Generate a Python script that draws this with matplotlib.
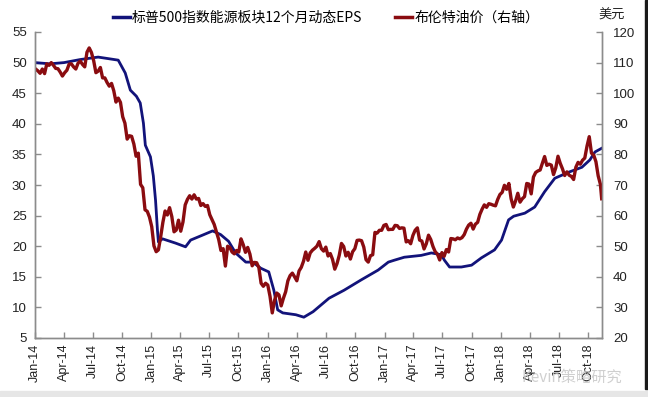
import matplotlib
matplotlib.use('Agg')
import matplotlib.pyplot as plt
import matplotlib.dates as mdates
from matplotlib.lines import Line2D
from matplotlib.patches import Rectangle
import pandas as pd

plt.rcParams['font.family'] = ['Liberation Sans', 'Noto Sans CJK SC', 'DejaVu Sans']

# ---- S&P 500 energy sector 12m forward EPS (left axis) ----
eps_dates = ['2014-01-01', '2014-02-17', '2014-04-02', '2014-05-23', '2014-07-18', '2014-08-25',
             '2014-09-19', '2014-10-11', '2014-10-27', '2014-11-15', '2014-11-27', '2014-12-07',
             '2014-12-13', '2014-12-29', '2015-01-07', '2015-01-14', '2015-01-20', '2015-01-23',
             '2015-02-05', '2015-03-18', '2015-04-18', '2015-05-04', '2015-06-10', '2015-07-12',
             '2015-08-06', '2015-08-31', '2015-09-22', '2015-10-24', '2015-11-15', '2015-12-10',
             '2016-01-04', '2016-01-20', '2016-02-01', '2016-02-17', '2016-03-29', '2016-04-23',
             '2016-05-22', '2016-06-16', '2016-07-11', '2016-08-27', '2016-10-20', '2016-12-12',
             '2017-01-13', '2017-01-31', '2017-03-04', '2017-04-26', '2017-05-28', '2017-06-28',
             '2017-07-08', '2017-07-24', '2017-08-30', '2017-10-01', '2017-11-01', '2017-12-12',
             '2018-01-03', '2018-01-25', '2018-02-10', '2018-03-17', '2018-04-17', '2018-05-18',
             '2018-06-19', '2018-08-02', '2018-09-12', '2018-10-07', '2018-10-23', '2018-11-13']
eps_values = [50.0, 49.8, 50.0, 50.5, 50.9, 50.6,
              50.4, 48.3, 45.5, 44.5, 43.4, 40.1,
              36.5, 34.6, 31.5, 27.5, 22.6, 20.7,
              21.2, 20.5, 19.9, 21.0, 21.8, 22.5,
              21.9, 20.8, 18.9, 17.4, 17.4, 16.4,
              15.8, 12.8, 9.6, 9.1, 8.8, 8.4,
              9.3, 10.4, 11.5, 12.8, 14.5, 16.1,
              17.4, 17.7, 18.2, 18.5, 18.9, 18.6,
              17.7, 16.6, 16.6, 16.9, 18.1, 19.4,
              21.0, 24.3, 24.9, 25.4, 26.4, 28.9,
              31.1, 32.1, 32.9, 34.1, 35.4, 36.0]

# ---- Brent crude, weekly (Fridays from 2014-01-03), right axis ----
brent_start = '2014-01-03'
brent_weekly = [
    # 2014
    107.9, 107.3, 106.5, 107.9, 106.4,
    109.6, 109.1, 110.0, 109.1,
    108.1, 108.0, 106.9, 105.6,
    106.7, 107.5, 109.5, 109.6,
    108.6, 107.9, 109.8, 110.5, 109.4,
    108.6, 113.4, 114.8, 113.3,
    110.6, 106.7, 107.2, 108.4,
    105.0, 105.0, 103.5, 102.3, 103.2,
    100.8, 97.1, 98.4, 97.0,
    92.3, 90.2, 85.0, 86.1, 85.9,
    83.4, 79.4, 80.4, 70.2,
    69.1, 61.9, 61.4, 59.5,
    # 2015
    56.4, 50.1, 48.2, 48.8, 53.0,
    57.8, 61.5, 60.2, 62.6,
    59.7, 54.7, 55.3, 58.5,
    54.9, 57.9, 63.5, 65.3,
    66.5, 65.4, 66.8, 65.4, 65.6,
    63.3, 63.9, 63.0, 63.3,
    60.3, 58.7, 57.1, 54.6, 52.2,
    48.6, 49.2, 43.5, 50.0,
    49.6, 48.1, 47.5, 48.6,
    48.1, 52.4, 50.5, 48.0, 49.6,
    47.4, 43.6, 44.7, 44.6,
    43.0, 37.9, 36.9, 37.9,
    # 2016
    37.3, 33.6, 28.2, 32.2, 34.7,
    34.1, 30.5, 33.0, 35.1,
    38.7, 40.4, 41.2, 40.0,
    38.7, 41.9, 43.1, 45.1, 48.1,
    45.4, 47.8, 48.7, 49.3,
    50.0, 51.5, 49.2, 48.4,
    49.7, 46.8, 47.6, 45.7, 42.5,
    44.3, 47.0, 50.9, 49.9,
    46.8, 48.0, 45.8, 48.2, 49.2,
    51.9, 52.0, 51.8, 49.7,
    45.6, 44.8, 46.9, 47.2,
    54.5, 54.3, 55.2, 55.2, 56.8,
    # 2017
    57.1, 55.4, 55.5, 55.5,
    56.8, 56.7, 55.8, 56.0,
    55.9, 51.4, 51.8, 50.8, 53.5,
    55.2, 56.0, 52.0, 51.7,
    49.1, 50.8, 53.6, 52.2,
    49.9, 48.2, 47.4, 45.5, 47.9,
    46.7, 48.9, 48.1, 52.5,
    52.4, 52.1, 52.7, 52.4,
    52.8, 53.8, 55.6, 56.9, 57.5,
    55.6, 57.2, 57.8, 60.4,
    62.1, 63.5, 62.7, 63.9,
    63.7, 63.4, 63.2, 65.3, 66.9,
    # 2018
    67.6, 69.9, 68.6, 70.5,
    65.5, 62.8, 64.8, 67.3,
    64.4, 65.5, 66.2, 70.5, 70.3,
    67.1, 72.6, 74.1, 74.6,
    74.9, 77.1, 79.3, 76.4,
    76.8, 76.5, 73.4, 75.6, 79.4,
    77.1, 75.3, 73.1, 74.3,
    73.2, 72.8, 71.8, 75.8, 77.4,
    76.8, 78.1, 78.8, 82.7,
    85.8, 80.4, 79.8, 77.6,
    73.0, 70.2,
]
brent_tail_dates = ['2018-11-13']
brent_tail_values = [65.5]

legend_labels = ['标普500指数能源板块12个月动态EPS', '布伦特油价（右轴）']
right_unit = '美元'
watermark = 'Kevin策略研究'

blue = '#12137a'
red = '#8a0c10'
spine_c = '#8c8c8c'

eps_x = pd.to_datetime(eps_dates)
brent_x = pd.date_range(brent_start, periods=len(brent_weekly), freq='W-FRI').append(
    pd.to_datetime(brent_tail_dates))
brent_y = list(brent_weekly) + list(brent_tail_values)

fig = plt.figure(figsize=(6.48, 3.97), dpi=100)
fig.patches.append(Rectangle((0, 0), 1, 6 / 397, transform=fig.transFigure,
                             color='#e6e6e6', zorder=-5))
fig.patches.append(Rectangle((645 / 648, 8 / 397), 3 / 648, 389 / 397, transform=fig.transFigure,
                             color='#1a1a1a', zorder=-5))

ax = fig.add_axes([35 / 648, 1 - 338 / 397, (602 - 35) / 648, (338 - 32) / 397])
ax2 = ax.twinx()

ax.plot(eps_x, eps_values, color=blue, lw=2.0, solid_joinstyle='round')
ax2.plot(brent_x, brent_y, color=red, lw=2.4, solid_joinstyle='round')

ax.set_ylim(5, 55)
ax.set_yticks(range(5, 56, 5))
ax2.set_ylim(20, 120)
ax2.set_yticks(range(20, 121, 10))
ax.set_xlim(pd.Timestamp('2014-01-01'), pd.Timestamp('2018-11-14'))
ax.xaxis.set_major_locator(mdates.MonthLocator(bymonth=[1, 4, 7, 10]))
ax.xaxis.set_major_formatter(mdates.DateFormatter('%b-%y'))

for a in (ax, ax2):
    a.spines['top'].set_visible(False)
    for s in ('left', 'right', 'bottom'):
        a.spines[s].set_color(spine_c)
        a.spines[s].set_linewidth(1.0)
    a.tick_params(direction='in', length=4, width=1, color=spine_c,
                  labelsize=9.5, labelcolor='#222222')
ax.tick_params(axis='y', pad=6)
ax2.tick_params(axis='y', pad=8)
ax.tick_params(axis='x', pad=4, labelsize=9)
for lbl in ax.get_xticklabels():
    lbl.set_rotation(90)

handles = [Line2D([], [], color=blue, lw=2.5), Line2D([], [], color=red, lw=2.5)]
fig.legend(handles, legend_labels, loc='center', bbox_to_anchor=(0.503, 0.956), ncol=2,
           frameon=False, handlelength=1.2, handletextpad=0.15, columnspacing=2.4,
           prop={'family': ['Noto Sans CJK SC'], 'size': 10})
fig.text(612 / 648, 1 - 15 / 397, right_unit, ha='center', va='center', fontsize=9.5,
         family=['Noto Sans CJK SC'], color='#222222')

fig.text(572 / 648, 1 - 377 / 397, watermark, ha='center', va='center', fontsize=11,
         family=['Noto Sans CJK SC'], color='#c4c4c4', alpha=0.8, zorder=10)

fig.savefig('out.png', dpi=100)
